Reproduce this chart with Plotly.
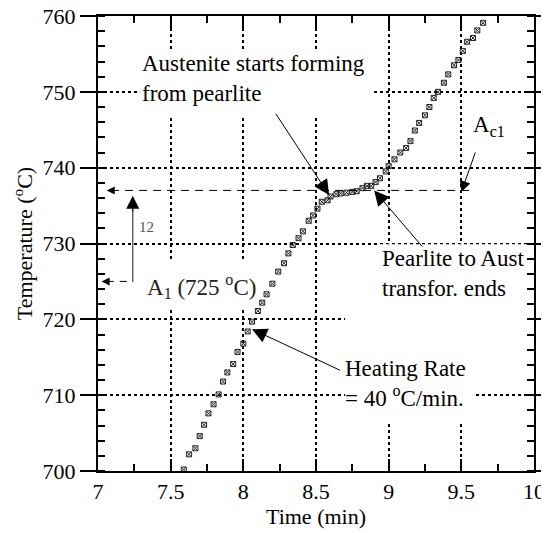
import plotly.graph_objects as go

# Data
time_min = [7.59, 7.627, 7.67, 7.70, 7.73, 7.76, 7.795, 7.83, 7.86, 7.89,
            7.93, 7.96, 8.00, 8.03, 8.06, 8.10, 8.13, 8.16, 8.20, 8.24,
            8.28, 8.31, 8.34, 8.38, 8.41, 8.45, 8.48, 8.51, 8.54, 8.58,
            8.60, 8.64, 8.67, 8.71, 8.75, 8.78, 8.82, 8.85, 8.88, 8.91,
            8.94, 8.98, 9.00, 9.04, 9.08, 9.12, 9.15, 9.18, 9.21, 9.25,
            9.28, 9.31, 9.34, 9.38, 9.41, 9.45, 9.48, 9.51, 9.54, 9.58,
            9.61, 9.65]
temperature = [700.2, 702.2, 703.0, 704.6, 706.1, 707.6, 708.8, 710.1, 711.8, 713.0,
               714.1, 715.7, 716.8, 718.4, 719.7, 721.1, 722.2, 723.3, 724.7, 726.3,
               727.4, 728.7, 729.8, 730.7, 731.6, 733.0, 733.7, 734.6, 735.5, 735.7,
               736.2, 736.5, 736.6, 736.7, 736.8, 736.9, 737.3, 737.6, 737.6, 738.1,
               738.6, 739.5, 740.2, 741.1, 742.0, 742.6, 743.5, 744.9, 745.9, 746.9,
               748.0, 749.2, 750.0, 751.2, 752.3, 753.5, 754.2, 755.4, 756.6, 757.1,
               758.1, 759.1]

x_ticks = [7, 7.5, 8, 8.5, 9, 9.5, 10]
x_tick_labels = ["7", "7.5", "8", "8.5", "9", "9.5", "10"]
y_ticks = [700, 710, 720, 730, 740, 750, 760]

A1_temp = 725
Ac1_temp = 737

FONT = "Liberation Serif, Times New Roman, DejaVu Serif, serif"

fig = go.Figure()
fig.add_trace(go.Scatter(
    x=time_min, y=temperature, mode="markers",
    marker=dict(symbol="square-x-open", size=5, color="#222",
                line=dict(width=1, color="#222")),
    showlegend=False, hoverinfo="skip"))

shapes = []
# white patches interrupting gridlines behind the text
for x0, x1, y0, y1 in [(7.29, 8.90, 746.9, 755.4),
                       (8.94, 9.99, 719.5, 729.9),
                       (8.70, 9.58, 706.5, 720.5),
                       (7.30, 8.08, 721.3, 727.6)]:
    shapes.append(dict(type="rect", xref="x", yref="y", x0=x0, x1=x1, y0=y0, y1=y1,
                       fillcolor="white", line=dict(width=0), layer="between"))
# Ac1 dashed line
shapes.append(dict(type="line", xref="x", yref="y", x0=7.09, x1=9.59,
                   y0=Ac1_temp, y1=Ac1_temp, line=dict(color="black", width=1, dash="8px,6px")))
# A1 dashed stub
shapes.append(dict(type="line", xref="x", yref="y", x0=7.06, x1=7.24,
                   y0=A1_temp, y1=A1_temp, line=dict(color="black", width=1, dash="7px,6px")))
# gray vertical line of the 12 degree arrow
shapes.append(dict(type="line", xref="x", yref="y", x0=7.239, x1=7.239,
                   y0=A1_temp - 0.1, y1=735.0, line=dict(color="#666", width=1.5)))
fig.update_layout(shapes=shapes)

ann = []
def arrow(x, y, ax, ay, size=3.0, color="black", width=1):
    ann.append(dict(x=x, y=y, ax=ax, ay=ay, xref="x", yref="y", axref="x", ayref="y",
                    text="", showarrow=True, arrowhead=2, arrowsize=size,
                    arrowwidth=width, arrowcolor=color))

def label(x, y, text, size=23, color="black", xanchor="left", yanchor="top"):
    ann.append(dict(x=x, y=y, xref="x", yref="y", text=text, showarrow=False,
                    xanchor=xanchor, yanchor=yanchor, align="left",
                    font=dict(family=FONT, size=size, color=color)))

label(7.29, 755.6, "Austenite starts forming<br>from pearlite")
arrow(8.59, 736.4, 8.217, 747.3)
label(9.567, 747.6, "A<sub>c1</sub>")
arrow(9.50, 736.8, 9.60, 742.2, size=2.2)
label(8.94, 730.0, "Pearlite to Aust<br>transfor. ends")
arrow(8.90, 737.0, 9.24, 729.4)
label(8.686, 715.4, "Heating Rate<br>= 40 <sup>o</sup>C/min.")
arrow(8.06, 718.7, 8.675, 713.2)
label(7.323, 726.6, "A<sub>1</sub> (725 <sup>o</sup>C)", color="#222")
label(7.265, 732.2, "12", size=15, color="#555", yanchor="middle")
# small left-pointing arrowheads
arrow(7.06, Ac1_temp, 7.11, Ac1_temp, size=1.6)
arrow(7.025, A1_temp, 7.075, A1_temp, size=1.6)
# black head of the 12-degree arrow
arrow(7.239, 736.3, 7.239, 734.0, size=2.6)
fig.update_layout(annotations=ann)

fig.update_xaxes(range=[7, 10], tickvals=x_ticks, ticktext=x_tick_labels,
                 showgrid=True, gridcolor="black", gridwidth=2, griddash="dot",
                 ticks="inside", ticklen=12, tickwidth=2, tickcolor="black",
                 showline=True, linecolor="black", linewidth=1.5, mirror="ticks",
                 minor=dict(dtick=0.25, ticks="inside", ticklen=7, tickwidth=2,
                            tickcolor="black", showgrid=False),
                 tickfont=dict(family=FONT, size=22, color="black"),
                 ticklabeloverflow="allow",
                 title=dict(text="Time (min)", font=dict(family=FONT, size=22, color="black"),
                            standoff=4),
                 zeroline=False, automargin=False)
fig.update_yaxes(range=[700, 760], tickvals=y_ticks,
                 showgrid=True, gridcolor="black", gridwidth=2, griddash="dot",
                 ticks="outside", ticklen=16, tickwidth=1.5, tickcolor="black",
                 showline=True, linecolor="black", linewidth=2, mirror="ticks",
                 minor=dict(dtick=2, ticks="inside", ticklen=7, tickwidth=2,
                            tickcolor="black", showgrid=False),
                 tickfont=dict(family=FONT, size=22, color="black"),
                 ticklabeloverflow="allow",
                 title=dict(text="Temperature (<sup>o</sup>C)",
                            font=dict(family=FONT, size=22, color="black"), standoff=4),
                 zeroline=False, automargin=False)

# the page body adds an 8px offset, so the figure is 8px smaller on each axis
fig.update_layout(width=541, height=525, margin=dict(l=90, r=15, t=8, b=62),
                  plot_bgcolor="white", paper_bgcolor="white",
                  font=dict(family=FONT, color="black"))

fig.write_html("out.html")
